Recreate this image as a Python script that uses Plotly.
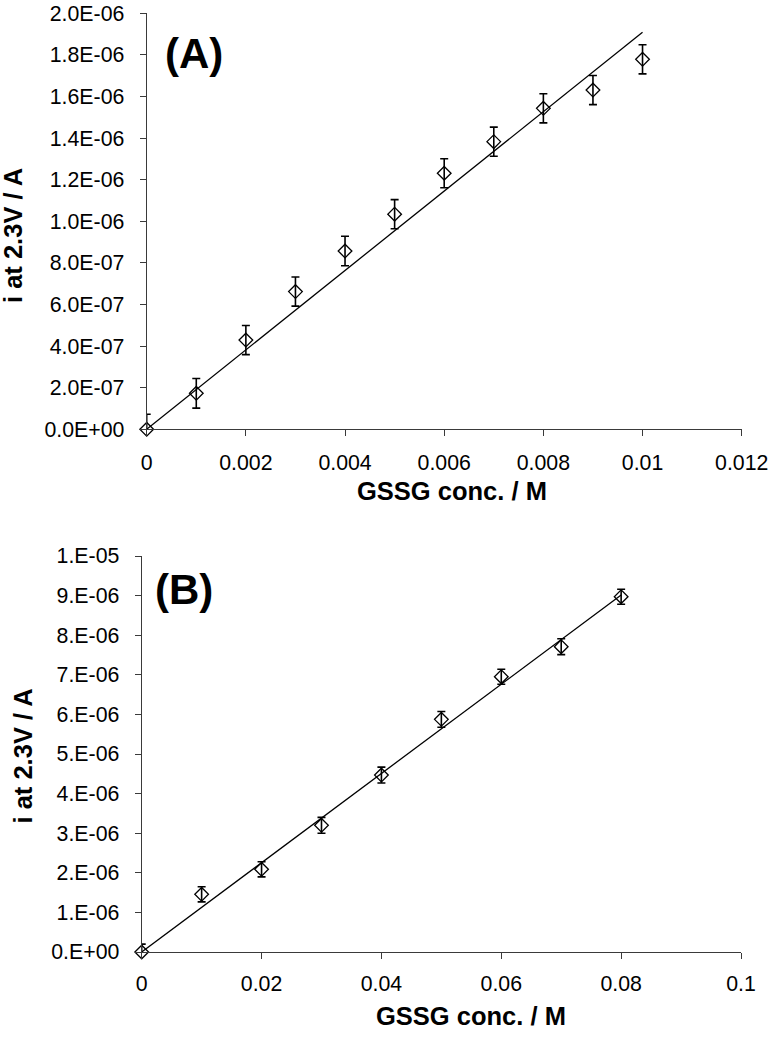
import numpy as np
import plotly.graph_objects as go

# ---------------- data ----------------
# Panel A
conc_a = [0, 0.001, 0.002, 0.003, 0.004, 0.005, 0.006, 0.007, 0.008, 0.009, 0.010]
curr_a = [0, 1.73e-7, 4.29e-7, 6.62e-7, 8.57e-7, 1.034e-6, 1.231e-6, 1.383e-6, 1.543e-6, 1.631e-6, 1.779e-6]
err_a = [7.2e-8, 7.1e-8, 7.0e-8, 7.0e-8, 7.1e-8, 7.0e-8, 7.0e-8, 7.0e-8, 7.0e-8, 7.0e-8, 7.0e-8]
xtick_a = [0, 0.002, 0.004, 0.006, 0.008, 0.010, 0.012]
xtick_a_text = ["0", "0.002", "0.004", "0.006", "0.008", "0.01", "0.012"]
ytick_a = [0, 2e-7, 4e-7, 6e-7, 8e-7, 1.0e-6, 1.2e-6, 1.4e-6, 1.6e-6, 1.8e-6, 2.0e-6]
ytick_a_text = ["0.0E+00", "2.0E-07", "4.0E-07", "6.0E-07", "8.0E-07", "1.0E-06",
                "1.2E-06", "1.4E-06", "1.6E-06", "1.8E-06", "2.0E-06"]

# Panel B
conc_b = [0, 0.01, 0.02, 0.03, 0.04, 0.05, 0.06, 0.07, 0.08]
curr_b = [0, 1.457e-6, 2.088e-6, 3.199e-6, 4.469e-6, 5.875e-6, 6.952e-6, 7.709e-6, 8.972e-6]
err_b = [2.0e-7, 1.9e-7, 1.9e-7, 2.0e-7, 2.0e-7, 2.0e-7, 1.9e-7, 2.0e-7, 1.9e-7]
xtick_b = [0, 0.02, 0.04, 0.06, 0.08, 0.1]
xtick_b_text = ["0", "0.02", "0.04", "0.06", "0.08", "0.1"]
ytick_b = [0, 1e-6, 2e-6, 3e-6, 4e-6, 5e-6, 6e-6, 7e-6, 8e-6, 9e-6, 1e-5]
ytick_b_text = ["0.E+00", "1.E-06", "2.E-06", "3.E-06", "4.E-06", "5.E-06",
                "6.E-06", "7.E-06", "8.E-06", "9.E-06", "1.E-05"]

# linear trendlines forced through the origin (least squares)
def origin_fit(x, y):
    x = np.asarray(x); y = np.asarray(y)
    return float((x * y).sum() / (x * x).sum())

slope_a = origin_fit(conc_a, curr_a)
slope_b = origin_fit(conc_b, curr_b)
fit_x_a = [0, conc_a[-1]]
fit_y_a = [slope_a * v for v in fit_x_a]
fit_x_b = [0, conc_b[-1]]
fit_y_b = [slope_b * v for v in fit_x_b]

# ---------------- figure ----------------
W, H = 771, 1038
FONT = "Liberation Sans, Arial, sans-serif"
AXC = "#3a3a3a"

fig = go.Figure()

def add_panel(fig, xs, ys, es, fx, fy, xa, ya):
    fig.add_trace(go.Scatter(x=fx, y=fy, mode="lines", line=dict(color="black", width=1.3),
                             xaxis=xa, yaxis=ya, showlegend=False, hoverinfo="skip"))
    fig.add_trace(go.Scatter(x=xs, y=ys, mode="markers",
                             marker=dict(size=1, color="rgba(0,0,0,0)"),
                             error_y=dict(type="data", array=es, visible=True,
                                          color="black", thickness=1.6, width=4),
                             xaxis=xa, yaxis=ya, showlegend=False, cliponaxis=True))
    fig.add_trace(go.Scatter(x=xs, y=ys, mode="markers",
                             marker=dict(symbol="diamond-open", size=10.5, color="black",
                                         line=dict(width=1.3, color="black")),
                             xaxis=xa, yaxis=ya, showlegend=False, cliponaxis=False))

add_panel(fig, conc_a, curr_a, err_a, fit_x_a, fit_y_a, "x", "y")
add_panel(fig, conc_b, curr_b, err_b, fit_x_b, fit_y_b, "x2", "y2")

def px_x(p):
    return p / W

def px_y(p):
    return 1 - p / H

tickfont = dict(family=FONT, size=21.3, color="black")
axis_common = dict(showline=True, linecolor=AXC, linewidth=1.2, ticks="outside",
                   ticklen=6, tickcolor=AXC, tickwidth=1.2, showgrid=False,
                   zeroline=False, tickfont=tickfont, automargin=False)

fig.update_layout(
    width=W, height=H,
    margin=dict(l=0, r=0, t=0, b=0),
    paper_bgcolor="white", plot_bgcolor="white",
    xaxis=dict(domain=[px_x(146.7), px_x(741.7)], range=[0, 0.012], anchor="y",
               tickmode="array", tickvals=xtick_a, ticktext=xtick_a_text,
               ticklabelstandoff=8, **axis_common),
    yaxis=dict(domain=[px_y(429.3), px_y(13.3)], range=[0, 2.0e-6], anchor="x",
               tickmode="array", tickvals=ytick_a, ticktext=ytick_a_text,
               ticklabelstandoff=11, **axis_common),
    xaxis2=dict(domain=[px_x(141.7), px_x(741.0)], range=[0, 0.1], anchor="y2",
                tickmode="array", tickvals=xtick_b, ticktext=xtick_b_text,
                ticklabelstandoff=6, **axis_common),
    yaxis2=dict(domain=[px_y(952.0), px_y(556.0)], range=[0, 1.0e-5], anchor="x2",
                tickmode="array", tickvals=ytick_b, ticktext=ytick_b_text,
                ticklabelstandoff=11, **axis_common),
)

titlefont = dict(family=FONT, size=25.5, color="black", weight="bold")
labelfont = dict(family=FONT, size=42, color="black", weight="bold")

annos = [
    dict(text="<b>GSSG conc. / M</b>", x=px_x(452), y=px_y(491), font=titlefont),
    dict(text="<b>GSSG conc. / M</b>", x=px_x(471), y=px_y(1016), font=titlefont),
    dict(text="<b>i at 2.3V / A</b>", x=px_x(13), y=px_y(236), font=titlefont, textangle=-90),
    dict(text="<b>i at 2.3V / A</b>", x=px_x(22), y=px_y(756.5), font=titlefont, textangle=-90),
    dict(text="<b>(A)</b>", x=px_x(194), y=px_y(53), font=labelfont),
    dict(text="<b>(B)</b>", x=px_x(184), y=px_y(589), font=labelfont),
]
for a in annos:
    fig.add_annotation(xref="paper", yref="paper", xanchor="center", yanchor="middle",
                       showarrow=False, **a)

fig.write_html("out.html", config={"displayModeBar": False},
               post_script="document.body.style.margin='0';document.body.style.overflow='hidden';")
